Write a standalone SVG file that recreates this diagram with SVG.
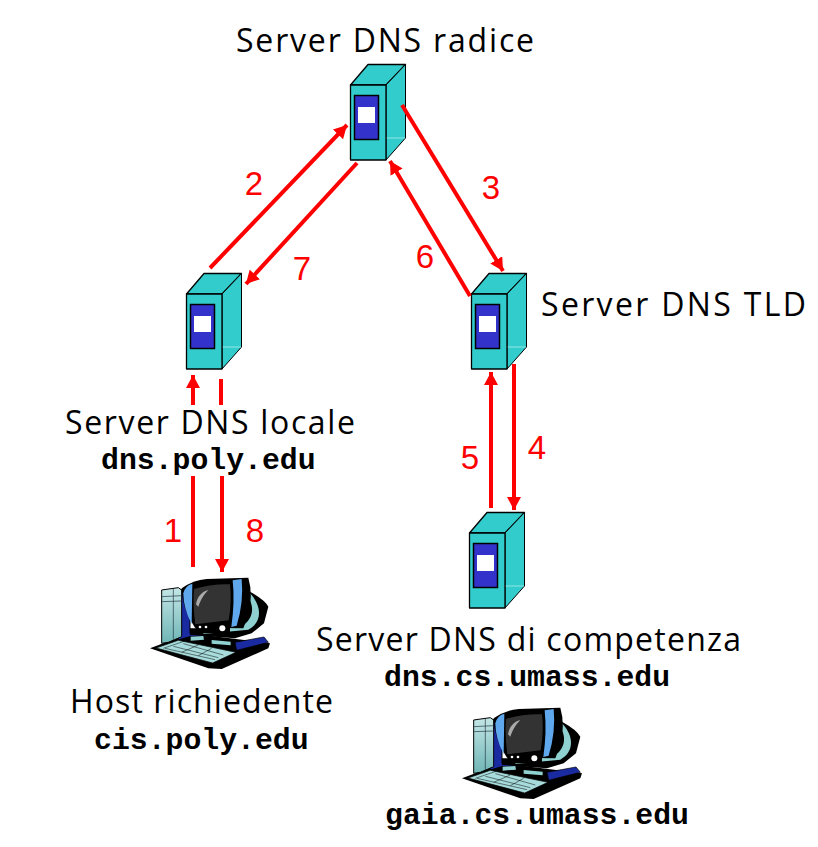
<svg xmlns="http://www.w3.org/2000/svg" width="818" height="847" viewBox="0 0 818 847">
<style>
.t{font-family:"Open Sans","Liberation Sans",sans-serif;font-size:32px;fill:#000}
.m{font-family:"Liberation Mono",monospace;font-weight:bold;font-size:29.8px;fill:#000}
.n{font-family:"Liberation Sans",sans-serif;font-size:33px;fill:#f00;text-anchor:middle}
.c line{stroke:#f00;stroke-width:4;fill:none}
.a{marker-end:url(#h)}
.s{stroke:#000;stroke-width:1.3;stroke-linejoin:round}
</style>
<defs>
<marker id="h" markerUnits="userSpaceOnUse" markerWidth="14" markerHeight="14" refX="13" refY="7" orient="auto"><path d="M0 0L13 7L0 14Z" fill="#f00"/></marker>
<linearGradient id="tw" x1="0" y1="0" x2="0" y2="1"><stop offset="0" stop-color="#c4e6e6"/><stop offset="1" stop-color="#6fb5b5"/></linearGradient>
<g id="srv">
<path class="s" d="M0.5 21L18 0.5H55.5L36 21Z" fill="#33cccc"/>
<path d="M36 21L55.5 0.5V74L36 96Z" fill="#33cccc" stroke="#000" stroke-width="1"/>
<path d="M36 74H55" stroke="#aee" stroke-width="0.8"/>
<rect class="s" x="0.5" y="21" width="35.5" height="75" fill="#33cccc"/>
<rect x="4.5" y="31.5" width="24" height="44" fill="#3333cc" stroke="#000" stroke-width="1.5"/>
<rect x="8" y="43" width="17" height="16" fill="#fff"/>
</g>
<g id="pc" transform="scale(.3333)">
<path d="M30 250L150 205L390 235L385 250L245 312L205 310Z" fill="#000"/>
<path d="M115 75L150 70V205L205 205L210 215L150 215L115 225Z" fill="#1a2aa0" stroke="#000" stroke-width="3"/>
<path d="M65 75L115 68L125 75V215L85 232L65 235Z" fill="url(#tw)" stroke="#000" stroke-width="3"/>
<path d="M65 95L125 92M100 72V225M65 110L125 108" stroke="#234" stroke-width="2" fill="none"/>
<path d="M285 232L372 216L385 232L290 256Z" fill="#1a2aa0" stroke="#000" stroke-width="2"/>
<path d="M330 80Q375 105 385 125L372 175L335 205L285 220L150 210L150 190L310 190Z" fill="#000"/>
<path d="M330 85C368 125 366 172 325 194L190 207L190 195L310 180C342 160 342 120 325 100Z" fill="#8fd0d0"/>
<path d="M125 70Q160 45 200 42L325 38Q340 90 325 150L310 190L165 188Q125 130 125 70Z" fill="#000"/>
<path d="M130 85Q135 62 157 56L155 178Q130 130 130 85Z" fill="#5fa8ee"/>
<path d="M278 46L305 42Q312 110 290 182L274 186Q285 110 278 46Z" fill="#5fa8ee"/>
<path d="M162 72Q215 56 270 58Q276 110 266 166Q215 172 166 178Q158 120 162 72Z" fill="#333"/>
<path d="M168 118C172 95 185 80 205 75C190 90 182 105 175 125Z" fill="#aaa"/>
<path d="M165 180L270 172L270 205L170 205Z" fill="#000"/>
<circle cx="180" cy="186" r="4" fill="#fff"/><circle cx="198" cy="186" r="4" fill="#fff"/><circle cx="247" cy="190" r="9" fill="#fff"/>
<path d="M152 215L190 213L192 224L152 227ZM215 225L272 230L272 241L215 236Z" fill="#8fd0d0"/>
<path d="M48 249L115 226L288 262L218 294Z" fill="#a8dcdc" stroke="#000" stroke-width="2"/>
<path d="M130 236L250 270M100 244L235 278M75 250L225 284M135 228L70 250M175 240L125 262M215 250L175 272" stroke="#000" stroke-width="1.5" fill="none"/>
</g>
</defs>
<g id="root-server"><use href="#srv" x="350" y="64"/><text class="t" x="236" y="52" textLength="298">Server DNS radice</text></g>
<g id="local-server"><use href="#srv" x="186" y="273"/><text class="t" x="65" y="434" textLength="290">Server DNS locale</text><text class="m" x="101" y="469">dns.poly.edu</text></g>
<g id="tld-server"><use href="#srv" x="471" y="273"/><text class="t" x="541" y="316" textLength="265">Server DNS TLD</text></g>
<g id="auth-server"><use href="#srv" x="469" y="512"/><text class="t" x="316" y="651" textLength="425">Server DNS di competenza</text><text class="m" x="384" y="686">dns.cs.umass.edu</text></g>
<g id="requesting-host"><use href="#pc" x="140" y="565"/><text class="t" x="70" y="713" textLength="263">Host richiedente</text><text class="m" x="94" y="749">cis.poly.edu</text></g>
<g id="target-host"><use href="#pc" x="452" y="695"/><text class="m" x="385" y="824">gaia.cs.umass.edu</text></g>
<g id="connectors" class="c">
<line class="a" x1="210" y1="268" x2="347" y2="125"/>
<line class="a" x1="357" y1="163" x2="246" y2="284"/>
<line class="a" x1="402" y1="105" x2="503" y2="271"/>
<line class="a" x1="470" y1="296" x2="390" y2="161"/>
<line class="a" x1="514" y1="364" x2="514" y2="510"/>
<line class="a" x1="491" y1="508" x2="491" y2="372"/>
<line class="a" x1="193" y1="405" x2="193" y2="375"/>
<line x1="221" y1="379" x2="221" y2="405"/>
<line x1="193" y1="476" x2="193" y2="567"/>
<line class="a" x1="222" y1="476" x2="222" y2="572"/>
</g>
<g id="labels">
<text class="n" x="254" y="195">2</text><text class="n" x="302" y="280">7</text><text class="n" x="491" y="199">3</text><text class="n" x="425" y="268">6</text><text class="n" x="470" y="469">5</text><text class="n" x="537" y="459">4</text><text class="n" x="173" y="542">1</text><text class="n" x="255" y="542">8</text>
</g>
</svg>
